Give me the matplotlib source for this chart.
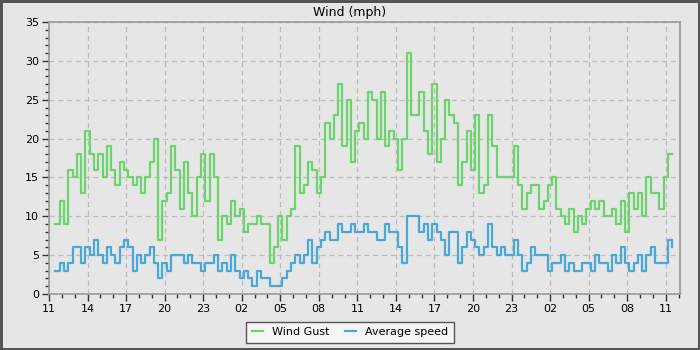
import matplotlib
matplotlib.use("Agg")
import matplotlib.pyplot as plt
from matplotlib.ticker import MultipleLocator
import numpy as np

# readings every 20 minutes, starting 11:30 (hours counted from 11:00 on day one)
start_hour = 0.5
step_hours = 1 / 3

wind_gust = [
    9, 12, 9, 16, 15, 18, 13, 21, 18, 16, 18, 15, 19, 16, 14, 17, 16, 15,
    14, 15, 13, 15, 17, 20, 7, 12, 13, 19, 16, 11, 17, 13, 10, 15, 18, 12,
    18, 15, 7, 10, 9, 12, 10, 11, 8, 9, 9, 10, 9, 9, 4, 6, 10, 7,
    10, 11, 19, 13, 14, 17, 16, 13, 15, 22, 20, 23, 27, 19, 25, 17, 21, 22, 20,
    26, 25, 20, 26, 19, 21, 20, 16, 20, 31, 23, 23, 26, 21, 18, 27, 17, 20, 25,
    23, 22, 14, 17, 21, 16, 23, 13, 14, 23, 19, 15, 15, 15, 15, 19, 14, 11,
    13, 14, 14, 11, 12, 14, 15, 11, 10, 9, 11, 8, 10, 9, 11, 12, 11, 12,
    10, 10, 11, 9, 12, 8, 13, 11, 13, 10, 15, 13, 13, 11, 15, 18, 18,
]

avg_speed = [
    3, 4, 3, 4, 6, 6, 4, 6, 5, 7, 5, 4, 6, 5, 4, 6, 7, 6,
    3, 5, 4, 5, 6, 4, 2, 4, 3, 5, 5, 5, 4, 5, 4, 4, 3, 4,
    4, 5, 3, 4, 3, 5, 3, 2, 3, 2, 1, 3, 2, 2, 1, 1, 1, 2,
    3, 4, 5, 4, 5, 7, 4, 6, 7, 8, 7, 7, 9, 8, 8, 9, 8, 8, 9,
    8, 8, 7, 7, 9, 8, 8, 6, 4, 10, 10, 10, 8, 9, 7, 9, 8, 7, 5,
    8, 8, 4, 6, 8, 7, 6, 5, 6, 9, 6, 5, 6, 5, 5, 7, 5, 3,
    4, 6, 5, 5, 5, 3, 4, 4, 5, 3, 4, 3, 3, 4, 4, 3, 5, 4,
    4, 3, 5, 4, 6, 4, 3, 4, 5, 3, 5, 6, 4, 4, 4, 7, 6,
]

tick_labels = ["11", "14", "17", "20", "23", "02", "05", "08", "11",
               "14", "17", "20", "23", "02", "05", "08", "11"]

hours = start_hour + step_hours * np.arange(len(wind_gust))

bg = "#e6e6e6"
fig = plt.figure(figsize=(7, 3.5), dpi=100, facecolor=bg,
                 edgecolor="#555555", linewidth=2.5)
ax = fig.add_axes([0.07, 0.16, 0.901, 0.777])
ax.set_facecolor(bg)

ax.plot(hours, wind_gust, drawstyle="steps-post", color="#6dd46d",
        linewidth=1.6, label="Wind Gust")
ax.plot(hours, avg_speed, drawstyle="steps-post", color="#4aa8d8",
        linewidth=1.6, label="Average speed")

ax.set_xlim(0, 49.09)
ax.set_ylim(0, 35)
ax.set_xticks(np.arange(0, 49, 3))
ax.set_xticklabels(tick_labels)
ax.xaxis.set_minor_locator(MultipleLocator(1))
ax.yaxis.set_major_locator(MultipleLocator(5))
ax.yaxis.set_minor_locator(MultipleLocator(1))

ax.grid(True, which="major", linestyle=(0, (4, 3)), color="#bdbdbd",
        linewidth=0.9)
for s in ax.spines.values():
    s.set_color("#999999")
    s.set_linewidth(1.2)
ax.tick_params(which="major", length=5, width=1, color="#333333",
               labelsize=8, pad=2)
ax.tick_params(which="minor", length=3, width=1, color="#333333")

fig.text(0.5, 0.965, "Wind (mph)", ha="center", va="center", fontsize=9)

leg = fig.legend(loc="lower center", bbox_to_anchor=(0.5, 0.005), ncol=2,
                 fontsize=8, frameon=True, fancybox=False, handlelength=1.0,
                 handletextpad=0.8, columnspacing=1.4, borderpad=0.5)
leg.get_frame().set_facecolor("#f4f4f4")
leg.get_frame().set_edgecolor("#555555")
leg.get_frame().set_alpha(1)

fig.savefig("out.png", dpi=100, facecolor=bg, edgecolor=fig.get_edgecolor())
